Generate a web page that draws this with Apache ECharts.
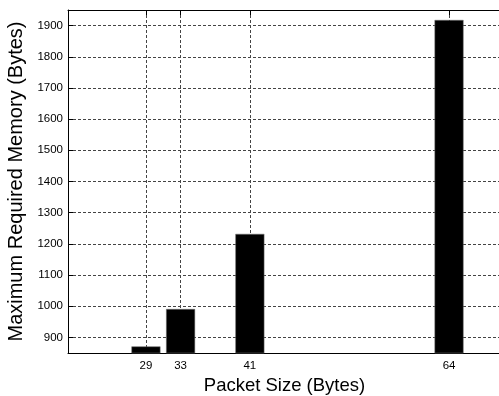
<!DOCTYPE html>
<html><head><meta charset="utf-8">
<script src="https://cdn.jsdelivr.net/npm/echarts@6/dist/echarts.min.js"></script>
<style>html,body{margin:0;padding:0;background:#fff;overflow:hidden}#c{width:503px;height:396px}</style>
</head><body><div id="c"></div>
<script>
const packetSizes = [29, 33, 41, 64];
const maxMemory = [871, 991, 1232, 1918];
const xTickValues = [29, 33, 41, 64];
const yTickValues = [900, 1000, 1100, 1200, 1300, 1400, 1500, 1600, 1700, 1800, 1900];
const xTitle = 'Packet Size (Bytes)';
const yTitle = 'Maximum Required Memory (Bytes)';

const font = "'Liberation Sans', Arial, sans-serif";
const gridLine = { show: true, lineStyle: { color: '#444', type: [3, 2], width: 1 } };
const chart = echarts.init(document.getElementById('c'), null, { renderer: 'canvas' });
chart.setOption({
  animation: false,
  backgroundColor: '#fff',
  grid: { left: 68, right: 2, top: 10, bottom: 43, containLabel: false, outerBoundsMode: 'none' },
  xAxis: [{
    type: 'value', position: 'bottom', min: 20, max: 70,
    name: xTitle, nameLocation: 'middle', nameGap: 22,
    nameTextStyle: { fontFamily: font, fontSize: 18.5, color: '#000' },
    axisLine: { show: true, lineStyle: { color: '#000', width: 1 } },
    axisTick: { show: true, inside: true, length: 5, customValues: xTickValues, lineStyle: { color: '#000' } },
    axisLabel: { show: true, customValues: xTickValues, formatter: v => String(v), fontFamily: font, fontSize: 11.5, color: '#000', margin: 7 },
    splitLine: gridLine
  }, {
    type: 'value', position: 'top', min: 20, max: 70,
    axisLine: { show: true, onZero: false, lineStyle: { color: '#000', width: 1 } },
    axisTick: { show: true, inside: true, length: 5, customValues: xTickValues, lineStyle: { color: '#000' } },
    axisLabel: { show: false },
    splitLine: { show: false }
  }],
  yAxis: {
    type: 'value', min: 850, max: 1950,
    name: yTitle, nameLocation: 'middle', nameGap: 41,
    nameTextStyle: { fontFamily: font, fontSize: 20, color: '#000' },
    axisLine: { show: true, lineStyle: { color: '#000', width: 1 } },
    axisTick: { show: true, inside: true, length: 5, customValues: yTickValues, lineStyle: { color: '#000' } },
    axisLabel: { show: true, customValues: yTickValues, formatter: v => String(v), fontFamily: font, fontSize: 11.5, color: '#000', margin: 5 },
    splitLine: gridLine
  },
  series: [{
    type: 'bar', xAxisIndex: 0,
    data: packetSizes.map((x, i) => [x, maxMemory[i]]),
    barWidth: 29,
    itemStyle: { color: '#000', borderColor: '#777', borderWidth: 0.5 },
    z: 3
  }]
});
</script></body></html>
